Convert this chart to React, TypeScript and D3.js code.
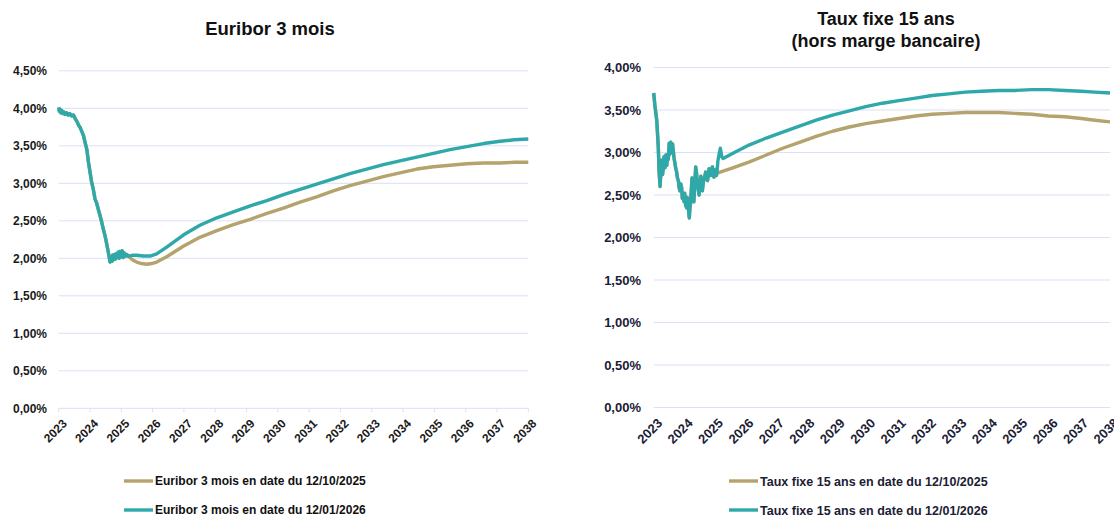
import React from "react";
import * as d3 from "d3";

// x axis labels (years) shared by both charts
const years = d3.range(2023, 2039);

// Euribor 3 mois : historique commun [année, taux %]
const euriborHist: [number, number][] = [
  [2023.0, 4.01], [2023.02, 3.96], [2023.04, 3.99], [2023.07, 3.94], [2023.1, 3.97],
  [2023.13, 3.93], [2023.17, 3.95], [2023.21, 3.92], [2023.25, 3.94], [2023.3, 3.91],
  [2023.35, 3.93], [2023.41, 3.9], [2023.47, 3.91], [2023.53, 3.86], [2023.59, 3.82],
  [2023.64, 3.77], [2023.69, 3.74], [2023.73, 3.7], [2023.79, 3.64], [2023.84, 3.55],
  [2023.9, 3.45], [2023.95, 3.28], [2024.0, 3.15], [2024.05, 3.02], [2024.1, 2.93],
  [2024.13, 2.86], [2024.16, 2.79], [2024.21, 2.74], [2024.26, 2.66], [2024.32, 2.57],
  [2024.37, 2.49], [2024.42, 2.4], [2024.48, 2.3], [2024.53, 2.2], [2024.58, 2.09],
  [2024.62, 2.0], [2024.64, 1.95], [2024.67, 2.0], [2024.7, 1.96], [2024.72, 2.04],
  [2024.75, 1.98], [2024.78, 2.05], [2024.81, 1.99], [2024.84, 2.06], [2024.87, 2.01],
  [2024.9, 2.08], [2024.93, 2.0], [2024.96, 2.09], [2024.99, 2.02], [2025.03, 2.1],
  [2025.06, 2.01], [2025.1, 2.07], [2025.14, 2.03], [2025.18, 2.05], [2025.22, 2.03],
];

// Euribor 3 mois : courbe au 12/10/2025
const euriborOct: [number, number][] = [
  [2025.35, 1.98], [2025.49, 1.95], [2025.65, 1.93], [2025.81, 1.92], [2025.97, 1.93],
  [2026.13, 1.95], [2026.45, 2.02], [2026.98, 2.16], [2027.51, 2.28], [2028.05, 2.37],
  [2028.58, 2.45], [2029.12, 2.52], [2029.65, 2.6], [2030.18, 2.67], [2030.71, 2.75],
  [2031.24, 2.82], [2031.77, 2.9], [2032.3, 2.97], [2032.84, 3.03], [2033.37, 3.09],
  [2033.9, 3.14], [2034.44, 3.19], [2034.97, 3.22], [2035.5, 3.24], [2036.03, 3.26],
  [2036.57, 3.27], [2037.1, 3.27], [2037.55, 3.28], [2038.0, 3.28],
];

// Euribor 3 mois : courbe au 12/01/2026
const euriborJan: [number, number][] = [
  [2025.35, 2.04], [2025.49, 2.04], [2025.7, 2.03], [2025.92, 2.03], [2026.13, 2.06],
  [2026.45, 2.15], [2026.98, 2.31], [2027.51, 2.44], [2028.05, 2.54], [2028.58, 2.62],
  [2029.12, 2.7], [2029.65, 2.77], [2030.18, 2.85], [2030.71, 2.92], [2031.24, 2.99],
  [2031.77, 3.06], [2032.3, 3.13], [2032.84, 3.19], [2033.37, 3.25], [2033.9, 3.3],
  [2034.44, 3.35], [2034.97, 3.4], [2035.5, 3.45], [2036.03, 3.49], [2036.57, 3.53],
  [2037.1, 3.56], [2037.55, 3.58], [2038.0, 3.59],
];

// Taux fixe 15 ans : historique commun
const fixeHist: [number, number][] = [
  [2023.0, 3.7], [2023.04, 3.55], [2023.1, 3.38], [2023.15, 3.07], [2023.18, 2.76],
  [2023.21, 2.6], [2023.24, 2.8], [2023.26, 2.91], [2023.29, 2.74], [2023.31, 2.8],
  [2023.34, 2.95], [2023.37, 2.82], [2023.4, 2.97], [2023.43, 2.85], [2023.46, 2.98],
  [2023.48, 2.92], [2023.51, 3.11], [2023.53, 2.98], [2023.56, 3.12], [2023.59, 3.0],
  [2023.62, 3.1], [2023.64, 3.03], [2023.67, 2.93], [2023.7, 2.87], [2023.72, 2.82],
  [2023.75, 2.78], [2023.78, 2.7], [2023.81, 2.67], [2023.84, 2.58], [2023.86, 2.55],
  [2023.89, 2.63], [2023.92, 2.58], [2023.94, 2.46], [2023.97, 2.5], [2024.0, 2.42],
  [2024.02, 2.52], [2024.05, 2.38], [2024.08, 2.35], [2024.1, 2.47], [2024.13, 2.42],
  [2024.15, 2.3], [2024.17, 2.23], [2024.19, 2.34], [2024.21, 2.4], [2024.24, 2.58],
  [2024.26, 2.7], [2024.29, 2.52], [2024.32, 2.42], [2024.35, 2.62], [2024.38, 2.83],
  [2024.41, 2.75], [2024.43, 2.66], [2024.46, 2.58], [2024.49, 2.5], [2024.52, 2.62],
  [2024.55, 2.72], [2024.58, 2.6], [2024.6, 2.55], [2024.63, 2.65], [2024.66, 2.69],
  [2024.69, 2.74], [2024.71, 2.77], [2024.74, 2.7], [2024.77, 2.67], [2024.8, 2.75],
  [2024.82, 2.81], [2024.85, 2.76], [2024.88, 2.73], [2024.91, 2.8], [2024.93, 2.83],
  [2024.96, 2.75], [2024.98, 2.71], [2025.01, 2.78], [2025.04, 2.8], [2025.06, 2.73],
  [2025.08, 2.76],
];

// Taux fixe 15 ans : courbe au 12/10/2025
const fixeOct: [number, number][] = [
  [2025.11, 2.76], [2025.6, 2.82], [2026.15, 2.89], [2026.7, 2.97], [2027.24, 3.05],
  [2027.79, 3.12], [2028.34, 3.19], [2028.88, 3.25], [2029.43, 3.3], [2029.97, 3.34],
  [2030.52, 3.37], [2031.06, 3.4], [2031.61, 3.43], [2032.15, 3.45], [2032.7, 3.46],
  [2033.24, 3.47], [2033.79, 3.47], [2034.34, 3.47], [2034.88, 3.46], [2035.43, 3.45],
  [2035.97, 3.43], [2036.52, 3.42], [2037.06, 3.4], [2037.5, 3.38], [2038.0, 3.36],
];

// Taux fixe 15 ans : courbe au 12/01/2026
const fixeJan: [number, number][] = [
  [2025.11, 2.9], [2025.15, 2.98], [2025.19, 3.05], [2025.24, 2.95], [2025.28, 2.93],
  [2025.7, 3.01], [2026.15, 3.09], [2026.7, 3.17], [2027.24, 3.24], [2027.79, 3.31],
  [2028.34, 3.38], [2028.88, 3.44], [2029.43, 3.49], [2029.97, 3.54], [2030.52, 3.58],
  [2031.06, 3.61], [2031.61, 3.64], [2032.15, 3.67], [2032.7, 3.69], [2033.24, 3.71],
  [2033.79, 3.72], [2034.34, 3.73], [2034.88, 3.73], [2035.43, 3.74], [2035.97, 3.74],
  [2036.52, 3.73], [2037.06, 3.72], [2037.5, 3.71], [2038.0, 3.7],
];

const leftTicks = d3.range(0, 4.51, 0.5);
const rightTicks = d3.range(0, 4.01, 0.5);

const TAN = "#b4a36c";
const TEAL = "#2ea8a9";
const GRID = "#d9e1f2";
const FONT = "'Liberation Sans', Arial, sans-serif";

const pct = (v: number) => d3.format(".2f")(v).replace(".", ",") + "%";

type PanelProps = {
  x0: number; x1: number; yTop: number; yBot: number; yMax: number;
  ticks: number[]; hist: [number, number][]; oct: [number, number][]; jan: [number, number][];
  tickFont: number; labelRight: number; textColor: string; showTicks: boolean;
};

function Panel(p: PanelProps) {
  const x = d3.scaleLinear().domain([2023, 2038]).range([p.x0, p.x1]);
  const y = d3.scaleLinear().domain([0, p.yMax]).range([p.yBot, p.yTop]);
  const line = d3.line<[number, number]>().x(d => x(d[0])).y(d => y(d[1]));
  return (
    <g fontFamily={FONT} fontWeight="bold">
      {p.ticks.map(t => (
        <g key={t}>
          <line x1={p.x0} x2={p.x1} y1={y(t)} y2={y(t)} stroke={GRID} strokeWidth={1} />
          <text x={p.labelRight} y={y(t)} dy="0.35em" textAnchor="end" fontSize={p.tickFont} fill={p.textColor}>
            {pct(t)}
          </text>
        </g>
      ))}
      {years.map(yr => (
        <g key={yr}>
          {p.showTicks && <line x1={x(yr)} x2={x(yr)} y1={p.yBot} y2={p.yBot + 4} stroke={GRID} />}
          <text
            transform={`translate(${x(yr) + 3},${p.yBot + 10}) rotate(-45)`}
            textAnchor="end" dy="0.7em" fontSize={p.tickFont} fill={p.textColor}>
            {yr}
          </text>
        </g>
      ))}
      <path d={line([...p.hist, ...p.oct]) || ""} fill="none" stroke={TAN} strokeWidth={3.4} strokeLinejoin="round" />
      <path d={line([...p.hist, ...p.jan]) || ""} fill="none" stroke={TEAL} strokeWidth={3.4} strokeLinejoin="round" />
    </g>
  );
}

function Legend({ x, y, labels, color, size }: { x: number; y: number; labels: string[]; color: string; size: number }) {
  return (
    <g fontFamily={FONT} fontWeight="bold" fontSize={size}>
      {labels.map((l, i) => (
        <g key={l} transform={`translate(${x},${y + i * 29})`}>
          <line x1={0} x2={29} y1={0} y2={0} stroke={i === 0 ? TAN : TEAL} strokeWidth={3.4} />
          <text x={31} y={0} dy="0.36em" fill={color}>{l}</text>
        </g>
      ))}
    </g>
  );
}

export default function App() {
  return (
    <svg width={1114} height={517} style={{ position: "absolute", left: 0, top: 0, background: "#fff" }}>
      <text x={270} y={35} textAnchor="middle" fontFamily={FONT} fontWeight="bold" fontSize={18.5} fill="#111">
        Euribor 3 mois
      </text>
      <Panel x0={58.7} x1={528.3} yTop={70.8} yBot={408.3} yMax={4.5} ticks={leftTicks}
        hist={euriborHist} oct={euriborOct} jan={euriborJan}
        tickFont={12} labelRight={47} textColor="#1a1a1a" showTicks={true} />
      <Legend x={124} y={481} color="#111" size={12}
        labels={["Euribor 3 mois en date du 12/10/2025", "Euribor 3 mois en date du 12/01/2026"]} />

      <text x={886} y={25} textAnchor="middle" fontFamily={FONT} fontWeight="bold" fontSize={18} fill="#111">
        Taux fixe 15 ans
      </text>
      <text x={886} y={47} textAnchor="middle" fontFamily={FONT} fontWeight="bold" fontSize={18} fill="#111">
        (hors marge bancaire)
      </text>
      <Panel x0={653.7} x1={1110} yTop={67.5} yBot={407.5} yMax={4} ticks={rightTicks}
        hist={fixeHist} oct={fixeOct} jan={fixeJan}
        tickFont={13} labelRight={641} textColor="#1b2035" showTicks={false} />
      <Legend x={729} y={481} color="#1b2035" size={12.5}
        labels={["Taux fixe 15 ans en date du 12/10/2025", "Taux fixe 15 ans en date du 12/01/2026"]} />
    </svg>
  );
}
